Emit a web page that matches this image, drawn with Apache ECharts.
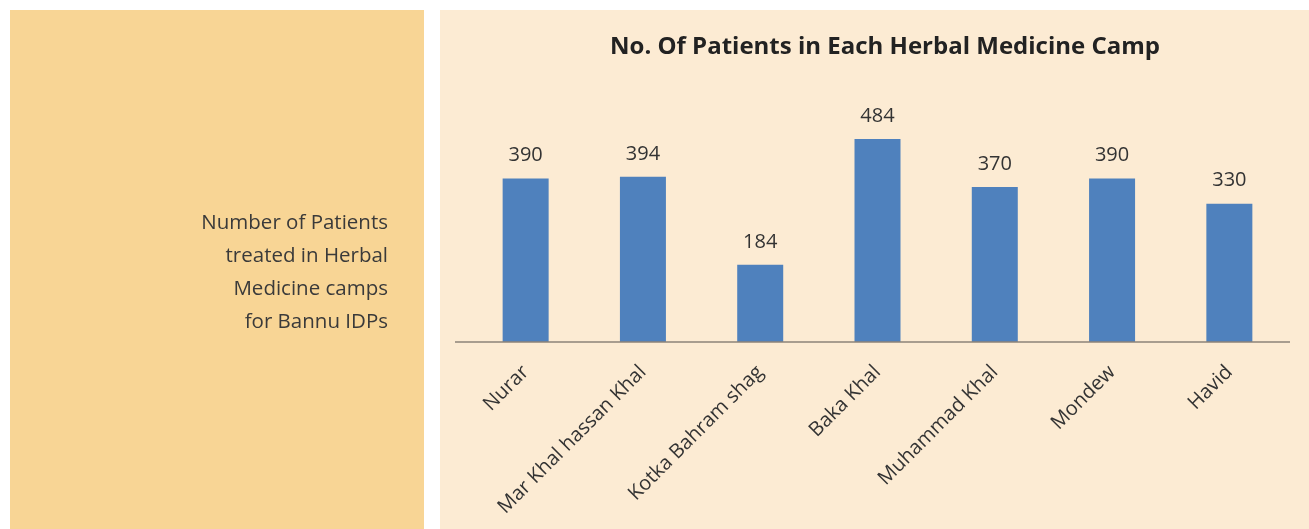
<!DOCTYPE html>
<html><head><meta charset="utf-8">
<script src="https://cdn.jsdelivr.net/npm/echarts@6/dist/echarts.min.js"></script>
<style>html,body{margin:0;padding:0;background:#fff}#c{width:1309px;height:529px}</style>
</head><body><div id="c"></div>
<script>
const categories = ['Nurar','Mar Khal hassan Khal','Kotka Bahram shag','Baka Khal','Muhammad Khal','Mondew','Havid'];
const patients = [390, 394, 184, 484, 370, 390, 330];
const sideText = ['Number of Patients','treated in Herbal','Medicine camps','for Bannu IDPs'];

const chart = echarts.init(document.getElementById('c'));
const font = '"Open Sans", "Noto Sans", sans-serif';
chart.setOption({
  backgroundColor: '#ffffff',
  animation: false,
  title: {
    text: 'No. Of Patients in Each Herbal Medicine Camp',
    left: 880, top: 30, textAlign: 'center',
    textStyle: { fontFamily: font, fontSize: 24, fontWeight: 'bold', color: '#222' }
  },
  graphic: [
    { type: 'rect', z: -10, shape: { x: 10, y: 10, width: 414, height: 519 }, style: { fill: '#F8D595' } },
    { type: 'rect', z: -10, shape: { x: 440, y: 10, width: 869, height: 519 }, style: { fill: '#FCEBD3' } },
    { type: 'text', z: 10, x: 388, y: 207,
      style: { text: sideText.join('\n'), textAlign: 'right', fill: '#3a3a3a',
        font: '20.5px "Open Sans", "Noto Sans", sans-serif', lineHeight: 33 } },
    { type: 'line', z: 5, shape: { x1: 455, y1: 342, x2: 1290, y2: 342 },
      style: { stroke: '#8c8378', lineWidth: 1.5 } }
  ],
  grid: { left: 467, right: 21, top: 90.5, bottom: 187, containLabel: false },
  xAxis: {
    type: 'category', data: categories,
    axisLine: { show: false },
    axisTick: { show: false },
    axisLabel: { rotate: 45, interval: 0, margin: 27, fontFamily: font, fontSize: 20, color: '#333' }
  },
  yAxis: {
    type: 'value', min: 0, max: 600, show: false, splitLine: { show: false }
  },
  series: [{
    type: 'bar', data: patients, barWidth: 46,
    itemStyle: { color: '#4F81BD' },
    label: { show: true, position: 'top', distance: 13, fontFamily: font, fontSize: 20, color: '#333' }
  }]
});
</script></body></html>
